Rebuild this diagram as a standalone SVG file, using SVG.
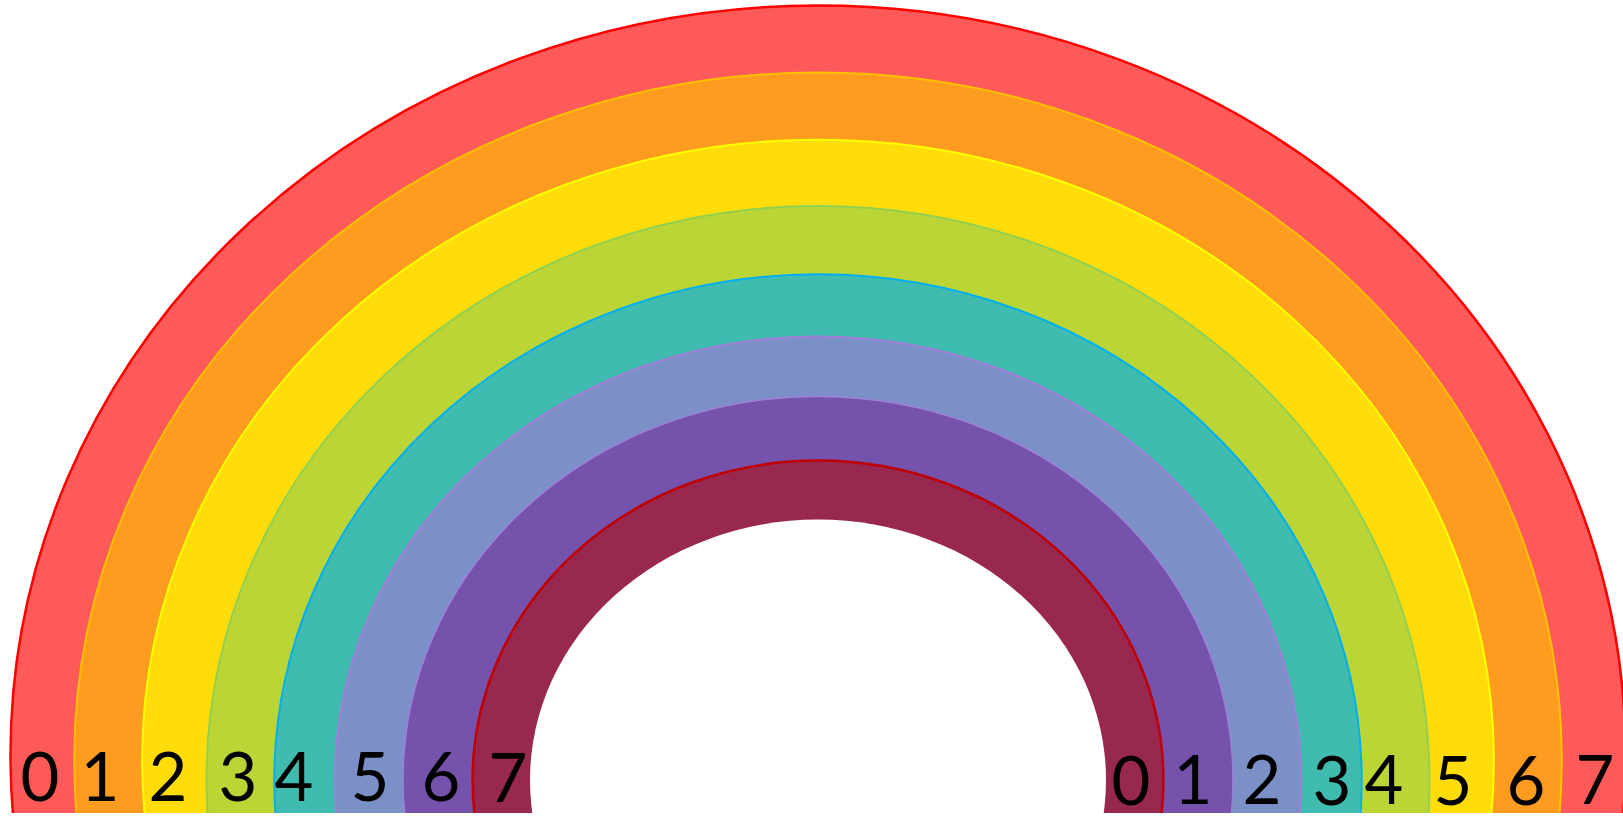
<svg xmlns="http://www.w3.org/2000/svg" width="1623" height="816" viewBox="0 0 1623 816">
  <defs>
    <clipPath id="cut"><rect x="0" y="0" width="1623" height="813"/></clipPath>
  </defs>
  <style>
    .num { font-family: Lato, "Liberation Sans", sans-serif; font-size: 67px; fill: #000; text-anchor: middle; }
  </style>
  <rect width="1623" height="816" fill="#ffffff"/>
  <g id="rainbow" clip-path="url(#cut)">
    <g id="band-red"><ellipse cx="818" cy="755" rx="807.5" ry="749.5" fill="#FF5A5A" stroke="#FF0000" stroke-width="2.5"/></g>
    <g id="band-orange"><ellipse cx="818" cy="760" rx="743.8" ry="687.5" fill="#FF9C20" stroke="#FFC000" stroke-width="2"/></g>
    <g id="band-yellow"><ellipse cx="818" cy="760" rx="675.9" ry="620.3" fill="#FFDC0A" stroke="#FFFF00" stroke-width="2"/></g>
    <g id="band-green"><ellipse cx="818" cy="780" rx="611.5" ry="574" fill="#BAD535" stroke="#92D050" stroke-width="2"/></g>
    <g id="band-teal"><ellipse cx="818" cy="780" rx="543.7" ry="505.7" fill="#40BBAF" stroke="#00B0F0" stroke-width="2"/></g>
    <g id="band-lavender"><ellipse cx="818" cy="780" rx="483.1" ry="443.6" fill="#7B90C7" stroke="#9F80D8" stroke-width="2"/></g>
    <g id="band-purple"><ellipse cx="818" cy="780" rx="415" ry="383.6" fill="#7552AC" stroke="#9F80D8" stroke-width="1.5"/></g>
    <g id="band-maroon"><ellipse cx="818" cy="780" rx="345.4" ry="319.4" fill="#992850" stroke="#C00000" stroke-width="2.5"/></g>
    <g id="band-inner"><ellipse cx="818" cy="780" rx="288" ry="260.4" fill="#FFFFFF"/></g>
  </g>
  <g id="labels-left">
    <text class="num" x="40" y="801">0</text>
    <text class="num" x="100" y="801">1</text>
    <text class="num" x="168" y="801">2</text>
    <text class="num" x="238" y="801">3</text>
    <text class="num" x="294" y="801">4</text>
    <text class="num" x="370" y="801">5</text>
    <text class="num" x="441" y="801">6</text>
    <text class="num" x="508" y="802">7</text>
  </g>
  <g id="labels-right">
    <text class="num" x="1131" y="805">0</text>
    <text class="num" x="1193" y="804">1</text>
    <text class="num" x="1262" y="804">2</text>
    <text class="num" x="1332" y="805">3</text>
    <text class="num" x="1384" y="804">4</text>
    <text class="num" x="1453" y="805">5</text>
    <text class="num" x="1526" y="805">6</text>
    <text class="num" x="1595" y="804">7</text>
  </g>
</svg>
